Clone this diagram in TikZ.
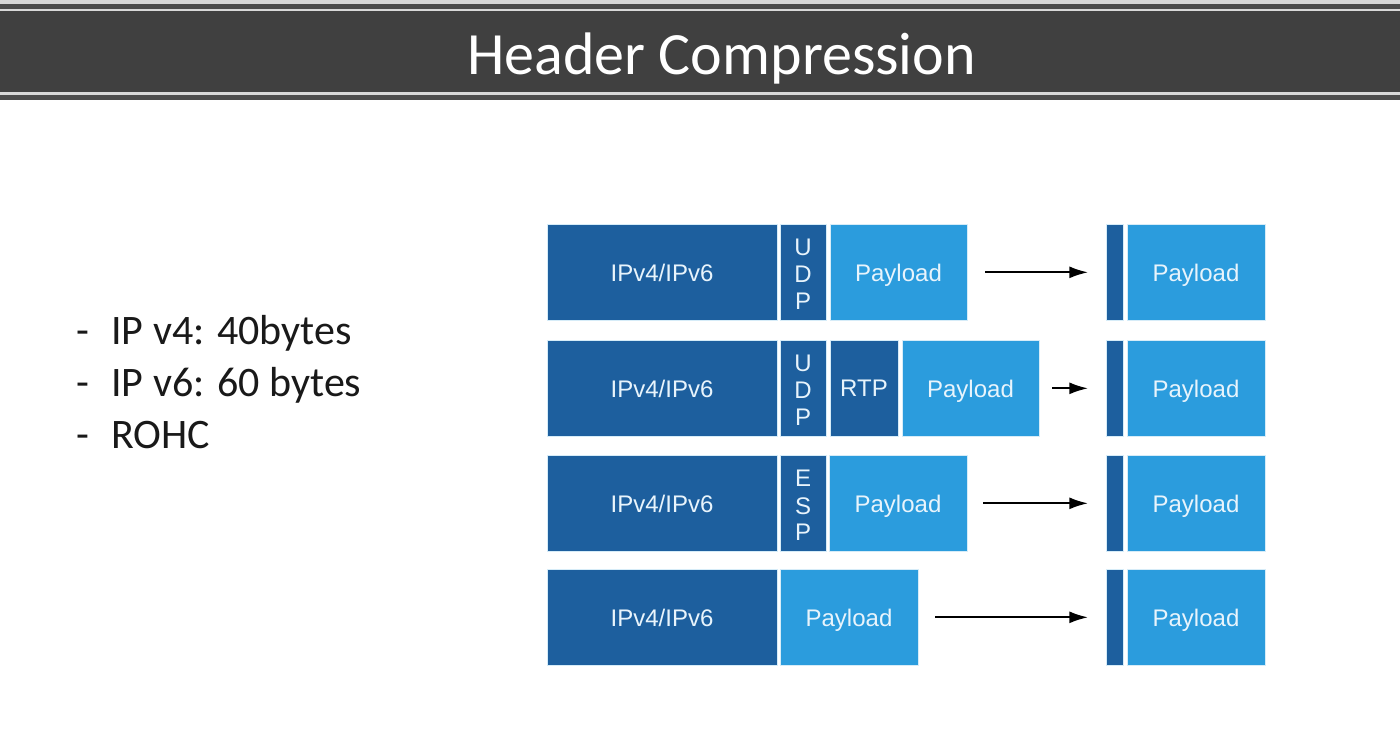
\documentclass[tikz,border=0pt]{standalone}
\usepackage{fontspec}
\setmainfont{Carlito}
\newfontfamily\boxfont{Liberation Sans}
\usetikzlibrary{arrows.meta}
\definecolor{hdr}{HTML}{404040}
\definecolor{hdrline}{HTML}{4C4C4C}
\definecolor{hdrlight}{HTML}{D8D8D8}
\definecolor{dkblue}{HTML}{1D5F9E}
\definecolor{ltblue}{HTML}{2B9CDD}
\definecolor{bord}{HTML}{D6ECF8}
\definecolor{txt}{HTML}{E8F4FC}
\begin{document}
\begin{tikzpicture}[x=0.75pt,y=-0.75pt,
 pkt/.style={draw=bord, line width=0.6pt, anchor=north west, inner sep=0pt, outer sep=0pt,
   minimum height=72.5pt, text depth=0pt, text=txt, font=\boxfont\fontsize{18}{20.25}\selectfont, align=center},
 dk/.style={pkt, fill=dkblue},
 lt/.style={pkt, fill=ltblue},
 flow/.style={line width=1.4pt, -{Latex[length=14pt,width=9pt]}, shorten >=13.5pt},
 bullettxt/.style={anchor=base west, inner sep=0pt, font=\fontsize{31.5}{36}\selectfont, text=black!90}
]
\useasboundingbox (0,0) rectangle (1400,755);
\fill[white] (0,0) rectangle (1400,755);
% header band
\fill[hdrlight] (0,0) rectangle (1400,4.5);
\fill[hdrline] (0,4.5) rectangle (1400,9);
\fill[hdrlight] (0,9) rectangle (1400,11.5);
\fill[hdr] (0,11.5) rectangle (1400,92);
\fill[hdrlight] (0,92) rectangle (1400,95.5);
\fill[hdrline] (0,95.5) rectangle (1400,100);
\node[anchor=base, inner sep=0pt, text=white, font=\fontsize{45}{54}\selectfont] (title) at (721.5,75) {Header Compression};

% bullets
\node[bullettxt] (d1) at (76,344.5) {-};
\node[bullettxt] (b1) at (111,344.5) {IP v4: 40bytes};
\node[bullettxt] (d2) at (76,396.5) {-};
\node[bullettxt] (b2) at (111,396.5) {IP v6: 60 bytes};
\node[bullettxt] (d3) at (76,448.5) {-};
\node[bullettxt] (b3) at (111,448.5) {ROHC};

% row 1
\node[dk, minimum width=172.5pt] (ip1) at (547,224) {IPv4/IPv6};
\node[dk, minimum width=34.5pt] (udp1) at (780,224) {\rule{0pt}{16pt}U\\D\\P};
\node[lt, minimum width=102.75pt] (pl1) at (830,224) {Payload};
\node[dk, minimum width=12.75pt] (h1) at (1106,224) {};
\node[lt, minimum width=103.5pt] (c1) at (1127,224) {Payload};
\draw[flow, shorten <=13.5pt] (pl1.east) -- (h1.west);

% row 2
\node[dk, minimum width=172.5pt] (ip2) at (547,340) {IPv4/IPv6};
\node[dk, minimum width=34.5pt] (udp2) at (780,340) {\rule{0pt}{16pt}U\\D\\P};
\node[dk, minimum width=51pt] (rtp2) at (830,340) {RTP};
\node[lt, minimum width=102.75pt] (pl2) at (902,340) {Payload};
\node[dk, minimum width=12.75pt] (h2) at (1106,340) {};
\node[lt, minimum width=103.5pt] (c2) at (1127,340) {Payload};
\draw[flow, shorten <=9.75pt] (pl2.east) -- (h2.west);

% row 3
\node[dk, minimum width=172.5pt] (ip3) at (547,455) {IPv4/IPv6};
\node[dk, minimum width=34.5pt] (esp3) at (780,455) {\rule{0pt}{16pt}E\\S\\P};
\node[lt, minimum width=103.5pt] (pl3) at (829,455) {Payload};
\node[dk, minimum width=12.75pt] (h3) at (1106,455) {};
\node[lt, minimum width=103.5pt] (c3) at (1127,455) {Payload};
\draw[flow, shorten <=12pt] (pl3.east) -- (h3.west);

% row 4
\node[dk, minimum width=172.5pt] (ip4) at (547,569) {IPv4/IPv6};
\node[lt, minimum width=103.5pt] (pl4) at (780,569) {Payload};
\node[dk, minimum width=12.75pt] (h4) at (1106,569) {};
\node[lt, minimum width=103.5pt] (c4) at (1127,569) {Payload};
\draw[flow, shorten <=12.75pt] (pl4.east) -- (h4.west);
\end{tikzpicture}
\end{document}
